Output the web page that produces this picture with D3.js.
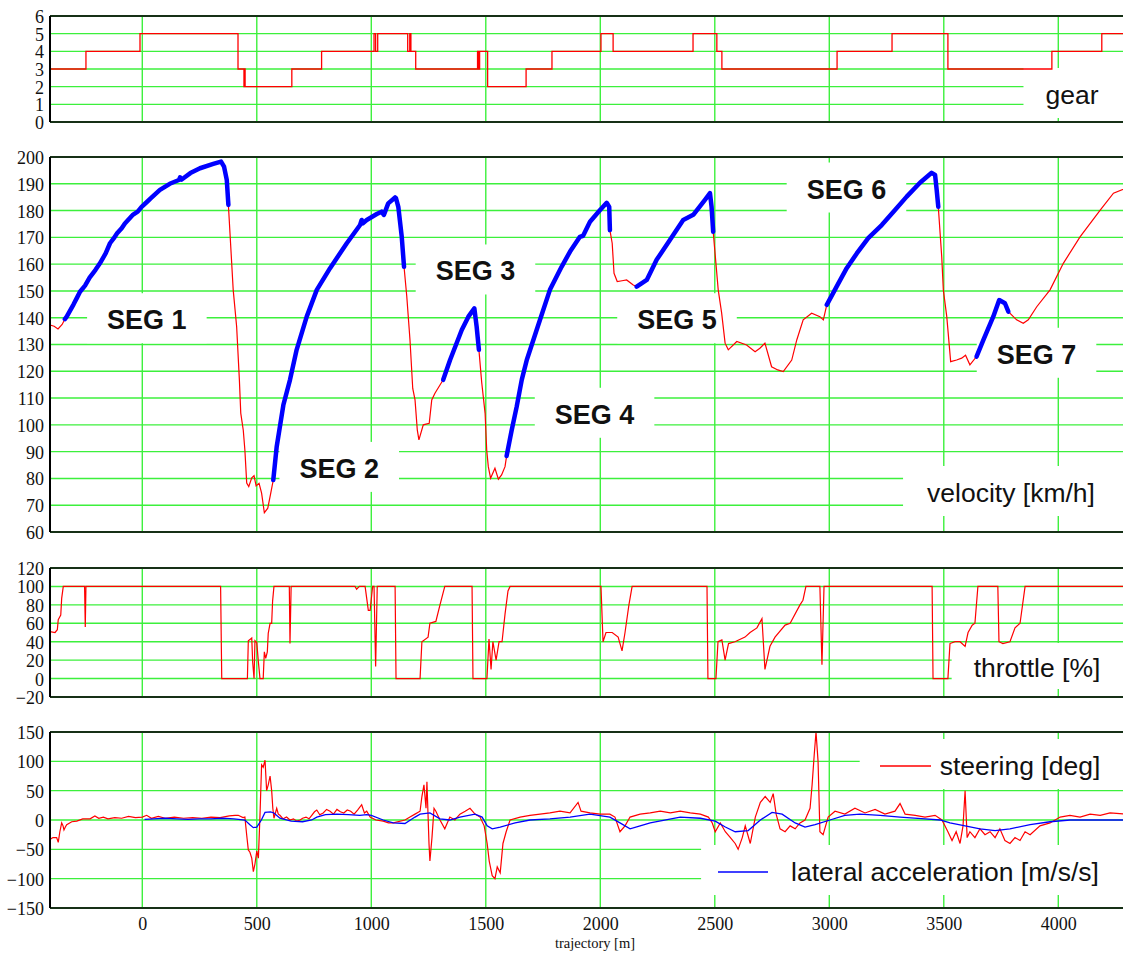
<!DOCTYPE html>
<html>
<head>
<meta charset="utf-8">
<script src="https://cdn.jsdelivr.net/npm/d3@7"></script>
<style>
  body { margin: 0; background: #fff; }
  svg { display: block; }
  .tick text { font-family: 'Liberation Serif', 'Times New Roman', serif; }
</style>
</head>
<body>
<svg id="chart"></svg>
<script>
// ---- data (trajectory in m) ----
const xTicks = [0, 500, 1000, 1500, 2000, 2500, 3000, 3500, 4000];

const gearTicks = [0, 1, 2, 3, 4, 5, 6];
const velTicks = [60, 70, 80, 90, 100, 110, 120, 130, 140, 150, 160, 170, 180, 190, 200];
const thrTicks = [-20, 0, 20, 40, 60, 80, 100, 120];
const steerTicks = [-150, -100, -50, 0, 50, 100, 150];

// gear: [position, gear] held until next point
const gear = [
  [-403, 3], [-246, 4], [-10, 5], [418, 3], [444, 2], [446, 3], [449, 2], [653, 3], [783, 4],
  [1012, 5], [1019, 4], [1028, 5], [1159, 4], [1168, 5], [1173, 4], [1194, 3],
  [1464, 4], [1468, 3], [1473, 4], [1508, 2], [1676, 3], [1789, 4], [2003, 5], [2056, 4],
  [2405, 5], [2509, 4], [2531, 3], [3034, 4], [3274, 5], [3518, 3], [3972, 4], [4190, 5], [4300, 5]
];

const velocity = [
  [-403, 137.3], [-385, 136.8], [-368, 135.8], [-350, 137.5], [-338, 139.5],
  [-330, 140.4], [-300, 145], [-285, 147.5], [-272, 149.7], [-250, 152], [-230, 155], [-205, 157.8],
  [-185, 160.3], [-160, 164], [-141, 167.8], [-125, 169.6], [-110, 171.5], [-90, 173.4],
  [-76, 175.2], [-40, 178.5], [-20, 179.6], [-3, 181.4], [20, 183.2], [40, 184.8], [77, 187.7],
  [120, 190], [160, 191.4], [165, 192.4], [172, 191.6], [210, 194],
  [252, 195.8], [310, 197.4], [344, 198.3], [357, 196.4], [369, 191.4], [376, 182.1],
  [397, 150.4], [412, 136.7], [424, 116.8], [430, 104.4], [441, 98], [448, 90.6], [456, 78.3], [465, 77],
  [478, 80.2], [488, 81], [497, 77.2], [510, 78.2], [521, 74.5], [533, 67.2], [548, 68.9], [561, 74.5],
  [572, 79.4], [587, 91.9], [616, 107.4], [645, 116.8], [674, 128], [718, 140.4], [762, 150.4],
  [820, 158.5], [893, 167.8], [951, 174.6], [958, 176.5], [962, 175.2], [980, 176.5], [1024, 178.7],
  [1045, 179.6], [1055, 178.4], [1074, 182.7], [1104, 184.9], [1108, 184.6], [1118, 181.4],
  [1133, 170.2], [1143, 159],
  [1155, 147.9], [1169, 131.7], [1181, 113.6], [1191, 109.3], [1201, 98], [1208, 94.4], [1227, 100],
  [1253, 100.6], [1264, 109.3], [1278, 111.8], [1300, 114.9], [1314, 116.8],
  [1344, 124.2], [1395, 135.4], [1424, 140.4], [1450, 143.5], [1460, 136.7], [1470, 128],
  [1482, 116], [1497, 104.3], [1504, 90.6], [1511, 84.4], [1521, 80.1], [1540, 83.8], [1555, 79.7],
  [1569, 81.3], [1584, 84.4], [1591, 88.4],
  [1613, 98], [1635, 106.8], [1657, 116.8], [1679, 124.2], [1722, 135.4], [1780, 150.4], [1831, 159],
  [1868, 164.7], [1911, 170.2], [1925, 170.6], [1955, 175.8], [1999, 180.2], [2028, 182.9],
  [2039, 181.4], [2042, 172.7],
  [2052, 167.8], [2060, 156.6], [2074, 153.5], [2095, 153.8], [2115, 154.1], [2144, 152.2], [2159, 151.6],
  [2203, 154.1], [2246, 161.6], [2304, 169], [2362, 176.5], [2406, 178.4], [2457, 184], [2479, 186.5],
  [2486, 181.4], [2493, 172.1],
  [2505, 160.3], [2515, 150.4], [2530, 141.7], [2545, 130.5], [2559, 128], [2596, 131.1], [2639, 129.8],
  [2676, 127.3], [2697, 128.6], [2719, 130.5], [2748, 121.7], [2775, 120.5], [2799, 119.9], [2836, 124.2],
  [2858, 131.7], [2886, 139.2], [2923, 141.7], [2959, 140.4], [2974, 139.2], [2989, 144.8],
  [3032, 151.6], [3076, 158.5], [3120, 164], [3170, 169.7], [3229, 174.6], [3287, 180.2], [3338, 185.2],
  [3396, 190.4], [3447, 194.1], [3462, 193.3], [3469, 187.7], [3476, 181.4],
  [3491, 162.8], [3498, 150.4], [3513, 140.4], [3530, 123.6], [3556, 124.2], [3578, 124.9], [3595, 126],
  [3614, 122.4], [3643, 125.5],
  [3673, 131.7], [3716, 140.4], [3742, 146.6], [3767, 145.4], [3782, 142.3],
  [3818, 139.2], [3847, 137.9], [3869, 139.2], [3906, 144.1], [3964, 150.4], [4022, 160.3], [4095, 170.2],
  [4183, 180.2], [4241, 186.5], [4300, 188.5]
];

// highlighted segments [from, to]
const segments = [
  [-338, 376], [572, 1143], [1314, 1470], [1591, 2042], [2159, 2493], [2989, 3476], [3643, 3782]
];
const segLabels = ["SEG 1", "SEG 2", "SEG 3", "SEG 4", "SEG 5", "SEG 6", "SEG 7"];
const segLabelX = [20, 860, 1455, 1975, 2335, 3075, 3905];
const segLabelY = [135.7, 80.2, 153.9, 100.4, 135.7, 184.5, 122.8];

const throttle = [
  [-403, 51], [-381, 50], [-371, 53], [-367, 64], [-356, 69], [-352, 87], [-345, 100], [-252, 100],
  [-249, 56], [-246, 100], [342, 100], [347, 0], [459, 0], [463, 41], [473, 43], [478, 44], [482, 18],
  [488, 0], [492, 41], [500, 39], [507, 18], [514, 0], [528, 0], [533, 29], [539, 22], [546, 29],
  [550, 49], [558, 60], [565, 60], [569, 84], [575, 100], [642, 100], [645, 38], [650, 100], [929, 100],
  [936, 97], [948, 100], [973, 100], [980, 87], [987, 74], [995, 74], [1002, 91], [1006, 100], [1012, 100],
  [1019, 13], [1026, 100], [1104, 100], [1108, 0], [1213, 0], [1221, 40], [1248, 45], [1256, 60],
  [1282, 62], [1300, 80], [1321, 100], [1440, 100], [1444, 0], [1505, 0], [1514, 43], [1523, 10],
  [1531, 40], [1545, 20], [1558, 40], [1571, 40], [1584, 70], [1597, 95], [1606, 100], [2003, 100],
  [2012, 40], [2025, 50], [2052, 50], [2078, 45], [2095, 30], [2108, 50], [2125, 80], [2139, 100],
  [2466, 100], [2470, 0], [2505, 0], [2514, 40], [2531, 42], [2545, 20], [2560, 38], [2588, 40],
  [2632, 45], [2654, 50], [2684, 55], [2706, 65], [2719, 10], [2741, 35], [2763, 45], [2807, 58],
  [2829, 60], [2872, 80], [2885, 85], [2898, 100], [2959, 100], [2968, 15], [2977, 100], [3449, 100],
  [3453, 0], [3518, 0], [3527, 38], [3549, 40], [3571, 40], [3593, 35], [3606, 50], [3624, 58],
  [3636, 60], [3649, 100], [3736, 100], [3741, 40], [3758, 38], [3789, 40], [3811, 55], [3833, 60],
  [3855, 100], [4300, 100]
];

const steering = [
  [-403, -33], [-390, -30], [-374, -30], [-367, -38], [-360, -20], [-352, -5], [-346, -10], [-342, -17],
  [-336, -12], [-330, -8], [-308, -3], [-286, -2], [-260, 2], [-228, 2], [-207, 7], [-190, 3], [-170, 5],
  [-150, 2], [-120, 4], [-90, 3], [-60, 6], [-30, 4], [0, 5], [19, 8], [40, 3], [70, 6], [100, 3],
  [140, 5], [180, 3], [220, 4], [260, 3], [300, 5], [340, 4], [380, 7], [405, 8], [419, 8], [440, 4],
  [448, 5], [456, -26], [463, -51], [470, -55], [478, -65], [485, -88], [492, -75], [500, -53],
  [507, -65], [514, 8], [521, 94], [528, 90], [536, 102], [543, 50], [550, 60], [558, 75], [565, 50],
  [570, 20], [575, 3], [587, 20], [594, 10], [601, 8], [615, 2], [630, 5], [645, 0], [660, 2], [675, -2],
  [689, 0], [700, 3], [715, 5], [728, 2], [740, 8], [752, 14], [762, 17], [775, 9], [790, 12], [805, 18],
  [820, 15], [835, 10], [850, 18], [865, 14], [880, 12], [895, 17], [910, 15], [925, 10], [940, 17],
  [958, 26], [970, 12], [980, 15], [995, 5], [1020, 0], [1052, -2], [1075, -5], [1096, -5], [1147, 0],
  [1169, 5], [1191, 10],
  [1213, 15], [1221, 40], [1230, 60], [1239, 20], [1243, 65], [1252, -40], [1256, -70], [1265, -30],
  [1274, 20], [1282, 15], [1300, 0], [1321, -15], [1343, 5], [1365, 0], [1387, 10], [1410, 15],
  [1431, 20], [1453, 10], [1475, 5], [1493, -10], [1506, -40], [1515, -70], [1528, -95], [1540, -100],
  [1550, -80], [1563, -90], [1575, -40], [1589, -20], [1606, 0], [1650, 5], [1693, 8], [1737, 10],
  [1780, 12], [1824, 15], [1868, 12], [1903, 30], [1916, 15], [1955, 12], [1999, 10], [2042, 10],
  [2064, 5], [2086, -20], [2108, -10], [2130, 5], [2174, 10], [2218, 12], [2262, 15], [2306, 12],
  [2349, 15], [2393, 12], [2437, 10], [2472, 5], [2489, -5], [2502, -20], [2524, -5], [2546, -20],
  [2568, -30], [2589, -40], [2602, -50], [2620, -30], [2633, -10], [2655, -40], [2677, 5], [2699, 30],
  [2720, 40], [2742, 30], [2755, 45], [2768, 10], [2785, -15], [2807, -20], [2829, -10], [2851, -15],
  [2872, -5], [2894, 0], [2916, 20], [2925, 60], [2934, 110], [2942, 150], [2951, 100], [2959, -20],
  [2973, -25], [2995, 5], [3025, 15], [3068, 10], [3112, 20], [3156, 12], [3200, 18], [3243, 10],
  [3287, 15], [3309, 28], [3331, 10], [3375, 8], [3418, 5], [3462, 8], [3492, 0], [3518, -20],
  [3536, -35], [3554, -20], [3571, -40], [3584, -10], [3593, 50], [3602, -30], [3614, -20], [3636, -30],
  [3658, -15], [3680, -25], [3702, -20], [3724, -30], [3745, -15], [3767, -35], [3789, -40], [3811, -30],
  [3833, -35], [3855, -20], [3877, -25], [3920, -10], [3964, -5], [4008, 5], [4051, 8], [4095, 5],
  [4139, 10], [4183, 8], [4226, 12], [4300, 10]
];

const latAcc = [
  [10, 1], [50, 2], [100, 3], [150, 2], [200, 1], [250, 2], [300, 2], [350, 3], [400, 2], [448, 0],
  [470, -8], [485, -13], [500, -12], [520, 0], [536, 13], [560, 14], [575, 12], [601, 3], [650, -2],
  [700, -3], [740, 0], [762, 5], [800, 9], [850, 10], [900, 9], [950, 8], [980, 9], [1000, 8], [1052, 0],
  [1096, -5], [1147, -6], [1191, 5], [1213, 10], [1256, 12], [1300, 2], [1343, 0], [1387, 5], [1453, 10],
  [1484, 5], [1506, -10], [1528, -15], [1563, -12], [1628, -5], [1693, 0], [1780, 2], [1868, 5],
  [1955, 10], [2042, 5], [2086, -5], [2130, -15], [2174, -10], [2218, -5], [2349, 5], [2437, 3],
  [2502, -2], [2546, -12], [2589, -20], [2646, -18], [2699, 0], [2750, 13], [2794, 10], [2851, -5],
  [2894, -12], [2938, -8], [3003, 0], [3068, 8], [3134, 10], [3222, 8], [3309, 5], [3418, 2], [3484, 0],
  [3527, -5], [3593, -10], [3658, -15], [3724, -18], [3789, -15], [3877, -8], [3964, -3], [4051, 0],
  [4183, 0], [4300, 0]
];

// ---- layout ----
const W = 1123, H = 956;
const left = 50;
const svg = d3.select("#chart").attr("width", W).attr("height", H);

const x = d3.scaleLinear().domain([-403, 4290]).range([left, left + 0.229 * 4693]);
const plotRight = x.range()[1];

const GRID = "#3cf03c";
const serif = "'Liberation Serif', 'Times New Roman', serif";
const sans = "'Liberation Sans', Arial, sans-serif";
const fmt = d3.format("d");

function makePanel(top, bottom, domain, ticks) {
  const y = d3.scaleLinear().domain(domain).range([bottom, top]);
  const g = svg.append("g");

  g.append("g").attr("class", "hgrid")
    .selectAll("line").data(ticks).join("line")
    .attr("x1", left).attr("x2", plotRight)
    .attr("y1", d => y(d)).attr("y2", d => y(d))
    .attr("stroke", GRID).attr("stroke-width", 1.4);

  g.append("g").attr("class", "vgrid")
    .selectAll("line").data(xTicks).join("line")
    .attr("x1", d => x(d)).attr("x2", d => x(d))
    .attr("y1", top).attr("y2", bottom)
    .attr("stroke", GRID).attr("stroke-width", 1.4);

  const yAxis = g.append("g")
    .attr("transform", `translate(${left},0)`)
    .call(d3.axisLeft(y).tickValues(ticks).tickSize(0).tickPadding(6).tickFormat(fmt));
  yAxis.select(".domain").remove();
  yAxis.attr("font-family", serif);
  yAxis.selectAll("text")
    .attr("font-family", serif).attr("font-size", 18).attr("fill", "#111")
    .attr("dy", "0.36em");

  const boxes = g.append("g");
  const data = g.append("g");
  const labels = g.append("g");

  // borders
  g.append("line").attr("x1", left).attr("x2", plotRight).attr("y1", top).attr("y2", top)
    .attr("stroke", "#163016").attr("stroke-width", 2);
  g.append("line").attr("x1", left).attr("x2", plotRight).attr("y1", bottom).attr("y2", bottom)
    .attr("stroke", "#163016").attr("stroke-width", 2);
  g.append("line").attr("x1", left).attr("x2", left).attr("y1", top).attr("y2", bottom)
    .attr("stroke", "#000").attr("stroke-width", 2);

  return { y, boxes, data, labels };
}

// white-backed label
function addLabel(p, text, cx, baseline, opts = {}) {
  const t = p.labels.append("text")
    .attr("x", cx).attr("y", baseline)
    .attr("text-anchor", opts.anchor || "middle")
    .attr("font-family", sans)
    .attr("font-size", opts.size || 26.5)
    .attr("font-weight", opts.bold ? "bold" : "normal")
    .attr("fill", "#111")
    .text(text);
  const b = t.node().getBBox();
  const padL = opts.padL != null ? opts.padL : 22;
  const padR = opts.padR != null ? opts.padR : 22;
  const mid = baseline - 11;
  const h = opts.h || 50;
  p.boxes.append("rect")
    .attr("x", b.x - padL).attr("y", mid - h / 2)
    .attr("width", b.width + padL + padR).attr("height", h)
    .attr("fill", "#fff");
  return t;
}

const pGear = makePanel(16, 122, [0, 6], gearTicks);
const pVel = makePanel(157, 532, [60, 200], velTicks);
const pThr = makePanel(568, 697, [-20, 120], thrTicks);
const pSteer = makePanel(732, 908, [-150, 150], steerTicks);

// gear
pGear.data.append("path")
  .datum(gear)
  .attr("fill", "none").attr("stroke", "#ff0000").attr("stroke-width", 1.3)
  .attr("d", d3.line().x(d => x(d[0])).y(d => pGear.y(d[1])).curve(d3.curveStepAfter));
addLabel(pGear, "gear", 1072, 104, { padR: 40 });

// velocity
const vLine = d3.line().x(d => x(d[0])).y(d => pVel.y(d[1]));
pVel.data.append("path")
  .datum(velocity)
  .attr("fill", "none").attr("stroke", "#ff0000").attr("stroke-width", 1.2)
  .attr("d", vLine);
pVel.data.selectAll("path.seg")
  .data(segments).join("path")
  .attr("class", "seg")
  .attr("fill", "none").attr("stroke", "#0000ff").attr("stroke-width", 4.5)
  .attr("stroke-linejoin", "round").attr("stroke-linecap", "round")
  .attr("d", s => vLine(velocity.filter(d => d[0] >= s[0] && d[0] <= s[1])));
segLabels.forEach((s, i) => {
  addLabel(pVel, s, x(segLabelX[i]), pVel.y(segLabelY[i]), { bold: true, size: 27, padL: 20, padR: 20 });
});
addLabel(pVel, "velocity [km/h]", 1011, 502, { padL: 24, padR: 30 });

// throttle
pThr.data.append("path")
  .datum(throttle)
  .attr("fill", "none").attr("stroke", "#ff0000").attr("stroke-width", 1.2)
  .attr("d", d3.line().x(d => x(d[0])).y(d => pThr.y(d[1])));
addLabel(pThr, "throttle [%]", 1037, 677, { padR: 30, h: 46 });

// steering + lateral acceleration
const sLine = d3.line().x(d => x(d[0])).y(d => pSteer.y(d[1]));
pSteer.data.append("path").datum(steering)
  .attr("fill", "none").attr("stroke", "#ff0000").attr("stroke-width", 1.2).attr("d", sLine);
pSteer.data.append("path").datum(latAcc)
  .attr("fill", "none").attr("stroke", "#0000ff").attr("stroke-width", 1.3).attr("d", sLine);

addLabel(pSteer, "steering [deg]", 1020, 775, { padL: 80, padR: 30 });
pSteer.labels.append("line").attr("x1", 880).attr("x2", 931).attr("y1", 766).attr("y2", 766)
  .attr("stroke", "#ff0000").attr("stroke-width", 1.5);
addLabel(pSteer, "lateral acceleration [m/s/s]", 945, 881, { padL: 90, padR: 30 });
pSteer.labels.append("line").attr("x1", 718).attr("x2", 768).attr("y1", 872).attr("y2", 872)
  .attr("stroke", "#0000ff").attr("stroke-width", 1.5);

// x axis labels
const xAxis = svg.append("g")
  .attr("transform", "translate(0,908)")
  .call(d3.axisBottom(x).tickValues(xTicks).tickSize(0).tickPadding(9).tickFormat(fmt));
xAxis.select(".domain").remove();
xAxis.attr("font-family", serif);
xAxis.selectAll("text").attr("font-family", serif).attr("font-size", 18).attr("fill", "#111");

svg.append("text")
  .attr("x", 595).attr("y", 948)
  .attr("text-anchor", "middle")
  .attr("font-family", serif).attr("font-size", 14.5).attr("fill", "#111")
  .text("trajectory [m]");
</script>
</body>
</html>
